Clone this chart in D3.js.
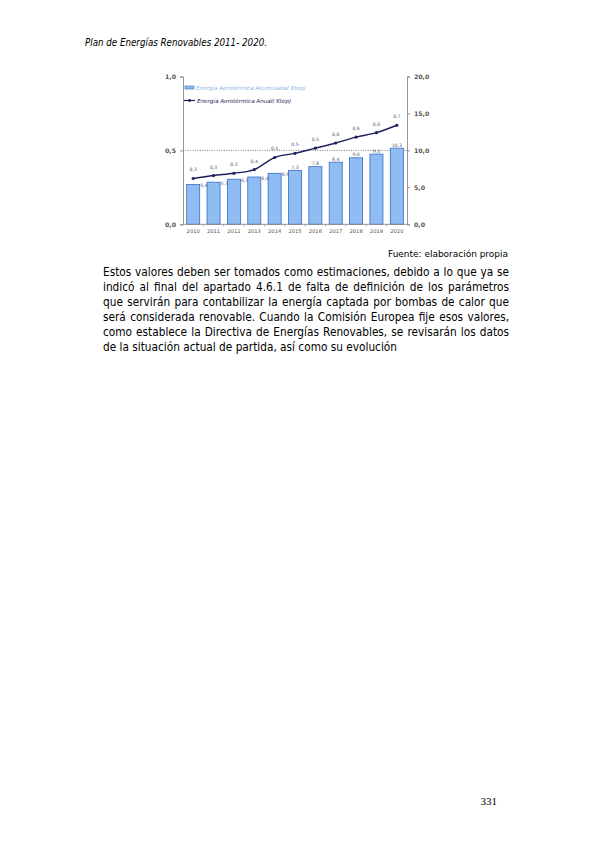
<!DOCTYPE html>
<html>
<head>
<meta charset="utf-8">
<script src="https://cdn.jsdelivr.net/npm/d3@7"></script>
<style>
  body { margin: 0; background: #fff; }
  svg { display: block; }
</style>
</head>
<body>
<svg id="page" width="595" height="842"></svg>
<script>
var years = ["2010", "2011", "2012", "2013", "2014", "2015", "2016", "2017", "2018", "2019", "2020"];
// Energía Aerotérmica Acumulada (Ktep), right axis
var acumulada = [5.4, 5.7, 6.1, 6.4, 6.9, 7.3, 7.8, 8.4, 9.0, 9.5, 10.3];
// Energía Aerotérmica Anual (Ktep), left axis
var anual = [0.31, 0.33, 0.345, 0.37, 0.452, 0.48, 0.515, 0.55, 0.59, 0.62, 0.67];
var leftTicks = [0, 0.5, 1];
var rightTicks = [0, 5, 10, 15, 20];
var legendLabels = ["Energía Aerotérmica Acumulada( Ktep)", "Energía Aerotérmica Anual( Ktep)"];

var bodyLines = [
    "Estos valores deben ser tomados como estimaciones, debido a lo que ya se",
    "indicó al final del apartado 4.6.1 de falta de definición de los parámetros",
    "que servirán para contabilizar la energía captada por bombas de calor que",
    "será considerada renovable. Cuando la Comisión Europea fije esos valores,",
    "como establece la Directiva de Energías Renovables, se revisarán los datos",
    "de la situación actual de partida, así como su evolución"
];

var es = d3.formatLocale({decimal: ",", thousands: ".", grouping: [3], currency: ["", "€"]});
var fmt = es.format(".1f");

var svg = d3.select("#page");

// page header
svg.append("text")
    .attr("x", 85).attr("y", 46)
    .attr("font-family", "DejaVu Sans").attr("font-style", "italic")
    .attr("font-size", 10.3).attr("fill", "#000")
    .attr("textLength", 182).attr("lengthAdjust", "spacingAndGlyphs")
    .text("Plan de Energías Renovables 2011- 2020.");

//chart frame
var x0 = 183, x1 = 407, yTop = 76.5, yBot = 224.3;

var x = d3.scaleBand().domain(years).range([x0, x1]).paddingInner(0.36).paddingOuter(0.18);
var xb = d3.scaleBand().domain(years).range([x0, x1]);
var yL = d3.scaleLinear().domain([0, 1]).range([yBot, yTop]);
var yR = d3.scaleLinear().domain([0, 20]).range([yBot, yTop]);

var chart = svg.append("g").attr("font-family", "DejaVu Sans");

// dotted reference line at 0,5
chart.append("line")
    .attr("x1", x0).attr("x2", x1)
    .attr("y1", yL(0.5)).attr("y2", yL(0.5))
    .attr("stroke", "#555").attr("stroke-width", 0.8)
    .attr("stroke-dasharray", "1,1.4");

// bars
chart.selectAll("rect.bar").data(acumulada).enter().append("rect")
    .attr("class", "bar")
    .attr("x", function (d, i) { return x(years[i]); })
    .attr("width", x.bandwidth())
    .attr("y", function (d) { return yR(d); })
    .attr("height", function (d) { return yBot - yR(d); })
    .attr("fill", "#8fbcf2")
    .attr("stroke", "#3a6cc4").attr("stroke-width", 0.8);

chart.selectAll("text.barlab").data(acumulada).enter().append("text")
    .attr("class", "barlab")
    .attr("x", function (d, i) {
        return i < 5 ? x(years[i]) + x.bandwidth() + 0.5 : x(years[i]) + x.bandwidth() / 2;
    })
    .attr("y", function (d, i) { return i < 5 ? yR(d) + 2.5 : yR(d) - 1.5; })
    .attr("text-anchor", function (d, i) { return i < 5 ? "start" : "middle"; })
    .attr("font-size", 4.6).attr("fill", "#4a5a7a")
    .text(function (d) { return fmt(d); });

// line series
var line = d3.line()
    .x(function (d, i) { return x(years[i]) + x.bandwidth() / 2; })
    .y(function (d) { return yL(d); })
    .curve(d3.curveMonotoneX);

chart.append("path").datum(anual)
    .attr("d", line)
    .attr("fill", "none").attr("stroke", "#1b1f5e").attr("stroke-width", 1.4);

chart.selectAll("circle.pt").data(anual).enter().append("circle")
    .attr("class", "pt")
    .attr("cx", function (d, i) { return x(years[i]) + x.bandwidth() / 2; })
    .attr("cy", function (d) { return yL(d); })
    .attr("r", 1.6).attr("fill", "#1b1f5e");

chart.selectAll("text.ptlab").data(anual).enter().append("text")
    .attr("class", "ptlab")
    .attr("x", function (d, i) { return x(years[i]) + x.bandwidth() / 2; })
    .attr("y", function (d) { return yL(d) - 7; })
    .attr("text-anchor", "middle")
    .attr("font-size", 4.6).attr("fill", "#4a5a7a")
    .text(function (d) { return fmt(d); });

// axes
var axL = d3.axisLeft(yL).tickValues(leftTicks).tickSize(3).tickPadding(4).tickFormat(fmt);
var axR = d3.axisRight(yR).tickValues(rightTicks).tickSize(3).tickPadding(4).tickFormat(fmt);
var axB = d3.axisBottom(xb).tickSize(0).tickPadding(5);

function styleAxis(g) {
    g.selectAll("path.domain").attr("stroke", "#8a8a8a").attr("stroke-width", 0.9);
    g.selectAll(".tick line").attr("stroke", "#8a8a8a").attr("stroke-width", 0.9);
    g.selectAll(".tick text").attr("fill", "#555").attr("font-family", "DejaVu Sans");
}

chart.append("g").attr("transform", "translate(" + x0 + ",0)").call(axL)
    .call(styleAxis).selectAll(".tick text").attr("font-size", 6.2).attr("font-weight", "bold");
chart.append("g").attr("transform", "translate(" + x1 + ",0)").call(axR)
    .call(styleAxis).selectAll(".tick text").attr("font-size", 6.2).attr("font-weight", "bold");
var gB = chart.append("g").attr("transform", "translate(0," + yBot + ")").call(axB).call(styleAxis);
gB.selectAll("path.domain").attr("d", "M" + x0 + ",0H" + x1);
gB.selectAll(".tick text").attr("font-size", 5.2);

// small ticks between categories
chart.selectAll("line.sep").data(years.slice(1)).enter().append("line")
    .attr("class", "sep")
    .attr("x1", function (d) { return xb(d); }).attr("x2", function (d) { return xb(d); })
    .attr("y1", yBot).attr("y2", yBot + 2)
    .attr("stroke", "#8a8a8a").attr("stroke-width", 0.8);

// legend
var lg = chart.append("g").attr("font-style", "italic").attr("font-size", 5.6);
lg.append("rect").attr("x", 185).attr("y", 86).attr("width", 9).attr("height", 3)
    .attr("fill", "#8fbcf2").attr("stroke", "#3a6cc4").attr("stroke-width", 0.6);
lg.append("text").attr("x", 196).attr("y", 89.8).attr("fill", "#8fb2de").text(legendLabels[0]);
lg.append("line").attr("x1", 184).attr("x2", 195).attr("y1", 100.5).attr("y2", 100.5)
    .attr("stroke", "#1b1f5e").attr("stroke-width", 1.2);
lg.append("circle").attr("cx", 189.5).attr("cy", 100.5).attr("r", 1.4).attr("fill", "#1b1f5e");
lg.append("text").attr("x", 197).attr("y", 102.5).attr("fill", "#1b1f5e").text(legendLabels[1]);

// source
svg.append("text")
    .attr("x", 508).attr("y", 256.5).attr("text-anchor", "end")
    .attr("font-family", "DejaVu Sans").attr("font-size", 9.2)
    .attr("textLength", 120).attr("lengthAdjust", "spacingAndGlyphs")
    .text("Fuente: elaboración propia");

// body paragraph: slightly narrowed glyphs (Tahoma-like), justified by word spacing
var bodyLeft = 103, bodyWidth = 406, sx = 0.88;
var body = svg.append("g").attr("transform", "translate(" + bodyLeft + ",0) scale(" + sx + ",1)");
var bodyText = body.selectAll("text.body").data(bodyLines).enter().append("text")
    .attr("class", "body")
    .attr("x", 0)
    .attr("y", function (d, i) { return 275.6 + i * 15; })
    .attr("font-family", "DejaVu Sans").attr("font-size", 12).attr("fill", "#000")
    .text(function (d) { return d; });

bodyText.each(function (d, i) {
    if (i === bodyLines.length - 1) return;
    var natural = this.getComputedTextLength();
    var gaps = d.split(" ").length - 1;
    d3.select(this).attr("word-spacing", (bodyWidth / sx - natural) / gaps);
});

// page number
svg.append("text")
    .attr("x", 497).attr("y", 805).attr("text-anchor", "end")
    .attr("font-family", "Liberation Serif").attr("font-size", 11)
    .text("331");
</script>
</body>
</html>
